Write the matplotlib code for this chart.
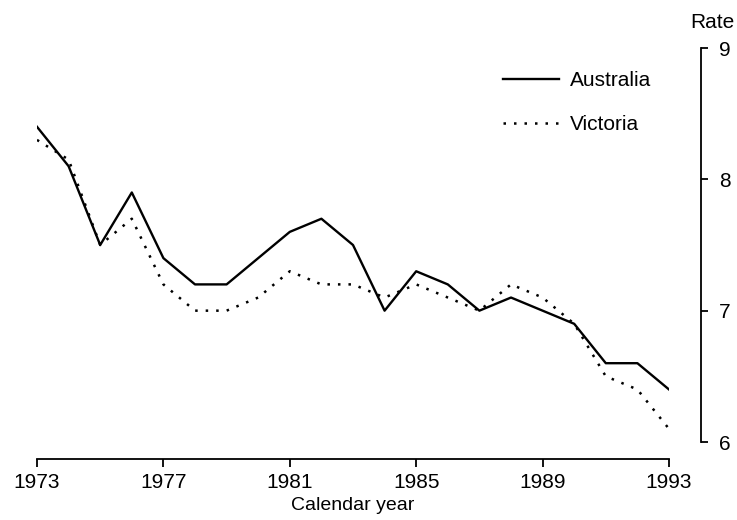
import matplotlib
matplotlib.use("Agg")
import matplotlib.pyplot as plt

plt.rcParams['font.family'] = ['Liberation Sans', 'DejaVu Sans']

years = list(range(1973, 1994))
australia = [8.4, 8.1, 7.5, 7.9, 7.4, 7.2, 7.2, 7.4, 7.6, 7.7, 7.5, 7.0,
             7.3, 7.2, 7.0, 7.1, 7.0, 6.9, 6.6, 6.6, 6.4]
victoria = [8.3, 8.15, 7.5, 7.7, 7.2, 7.0, 7.0, 7.1, 7.3, 7.2, 7.2, 7.1,
            7.2, 7.1, 7.0, 7.2, 7.1, 6.9, 6.5, 6.4, 6.1]
xticks = [1973, 1977, 1981, 1985, 1989, 1993]
yticks = [6, 7, 8, 9]

W, H = 737, 520
fig = plt.figure(figsize=(W / 100, H / 100), dpi=100)
ax = fig.add_axes([37 / W, (H - 442) / H, (669 - 37) / W, (442 - 48) / H])

ax.plot(years, australia, color='black', lw=1.7, label='Australia')
ax.plot(years, victoria, color='black', lw=1.8, linestyle=(0, (1, 3.2)),
        label='Victoria')

ax.set_xlim(1973, 1993)
ax.set_ylim(6, 9)

for s in ['top', 'left']:
    ax.spines[s].set_visible(False)
ax.spines['right'].set_position(('outward', 23))
ax.spines['bottom'].set_position(('outward', 12))
ax.spines['right'].set_bounds(6, 9)
ax.spines['bottom'].set_bounds(1973, 1993)
for s in ['right', 'bottom']:
    ax.spines[s].set_linewidth(1.3)

ax.yaxis.tick_right()
ax.set_xticks(xticks)
ax.set_xticklabels([str(t) for t in xticks])
ax.set_yticks(yticks)
ax.set_yticklabels([str(t) for t in yticks])
ax.tick_params(axis='x', direction='out', length=6, width=1.3, pad=4,
               labelsize=15)
ax.tick_params(axis='y', direction='out', length=5, width=1.3, pad=8,
               labelsize=15)

ax.set_xlabel('Calendar year', fontsize=14, labelpad=4)

fig.text(734 / W, 1 - 22 / H, 'Rate', ha='right', va='center', fontsize=15)

leg = ax.legend(loc='center left', bbox_to_anchor=(503 / W, 1 - 102.5 / H),
                bbox_transform=fig.transFigure, frameon=False, fontsize=15,
                handlelength=2.7, handletextpad=0.5, labelspacing=1.2,
                borderpad=0, borderaxespad=0)

fig.savefig('out.png', dpi=100, facecolor='white')
